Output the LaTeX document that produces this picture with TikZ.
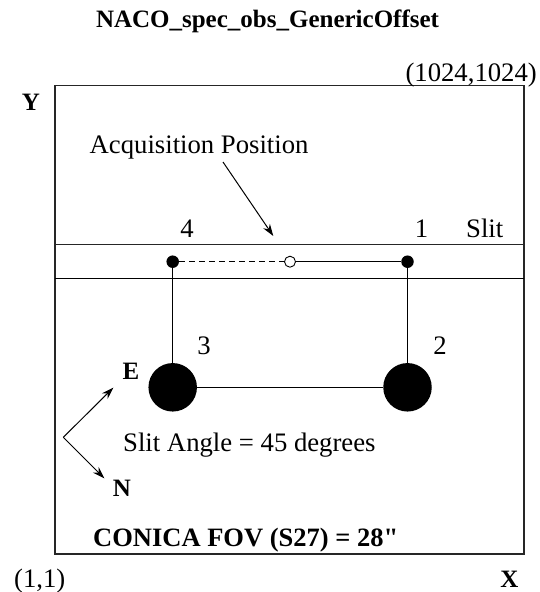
\documentclass[tikz,border=0pt]{standalone}
\usepackage{fontspec}
\setmainfont{Liberation Serif}[Ligatures=TeXOff]
\usetikzlibrary{arrows.meta}
\begin{document}
\begin{tikzpicture}[x=1pt,y=-1pt,
  lbl/.style={inner sep=0pt, font=\fontsize{26.7}{30}\selectfont},
  blbl/.style={inner sep=0pt, font=\fontsize{25}{30}\selectfont\bfseries},
  frame/.style={line width=1.2pt, black!85},
  ln/.style={line width=1pt},
  arr/.style={line width=1pt, -{Stealth[length=12pt,width=8pt]}},
  dot/.style={circle, fill=black, inner sep=0pt, minimum size=12.5pt},
  odot/.style={circle, draw=black, fill=white, line width=0.9pt, inner sep=0pt, minimum size=11pt},
  bigdot/.style={circle, fill=black, inner sep=0pt, minimum size=48.5pt}]
\useasboundingbox (0,0) rectangle (539,592);

% title
\node[blbl, anchor=base] (title) at (267.5,27) {NACO\_spec\_obs\_GenericOffset};

% detector frame and slit
\coordinate (bl) at (55,554);
\coordinate (tr) at (524,85.7);
\draw[frame] (bl) rectangle (tr);
\coordinate (slTL) at (55,244.5);
\coordinate (slTR) at (524,244.5);
\coordinate (slBL) at (55,278.3);
\coordinate (slBR) at (524,278.3);
\draw[ln, black!85] (slTL) -- (slTR);
\draw[ln] (slBL) -- (slBR);

% corner labels
\node[lbl, anchor=base east] (cTR) at (537,81) {(1024,1024)};
\node[lbl, anchor=base west] (cBL) at (14,587) {(1,1)};
\node[blbl, anchor=base] (Ylab) at (31,110) {Y};
\node[blbl, anchor=base] (Xlab) at (509.5,587) {X};

% positions
\node[dot] (d4) at (172.7,261.7) {};
\node[dot] (d1) at (407.5,261.7) {};
\node[odot] (acq) at (290,261.7) {};
\node[bigdot] (c3) at (172.7,387.3) {};
\node[bigdot] (c2) at (407.5,387.3) {};

\draw[ln, dash pattern=on 6pt off 4pt] (d4) -- (acq);
\draw[ln] (acq) -- (d1);
\draw[ln] (d4) -- (c3);
\draw[ln] (d1) -- (c2);
\draw[ln] (c3) -- (c2);

% position labels
\node[lbl, anchor=base] (l4) at (187,237) {4};
\node[lbl, anchor=base] (l1) at (421.5,237) {1};
\node[lbl, anchor=base west] (lslit) at (466,237) {Slit};
\node[lbl, anchor=base] (l3) at (204,354.5) {3};
\node[lbl, anchor=base] (l2) at (440,354.5) {2};

% acquisition position
\node[lbl, anchor=base west] (acqlab) at (89.5,153) {Acquisition Position};
\coordinate (aS) at (223,162);
\coordinate (aE) at (273.3,236);
\draw[arr] (aS) -- (aE);

% compass
\coordinate (cv) at (63.3,437.3);
\coordinate (cE) at (113.3,387.7);
\coordinate (cN) at (104.3,478.3);
\draw[arr] (cv) -- (cE);
\draw[arr] (cv) -- (cN);
\node[blbl, anchor=base] (Elab) at (131,379.5) {E};
\node[blbl, anchor=base] (Nlab) at (122,496.7) {N};

% texts
\node[lbl, anchor=base west] (angle) at (123,451.7) {Slit Angle = 45 degrees};
\node[lbl, font=\fontsize{26.5}{30}\selectfont\bfseries, anchor=base west] (fov) at (93,546) {CONICA FOV (S27) = 28"};
\end{tikzpicture}
\end{document}
